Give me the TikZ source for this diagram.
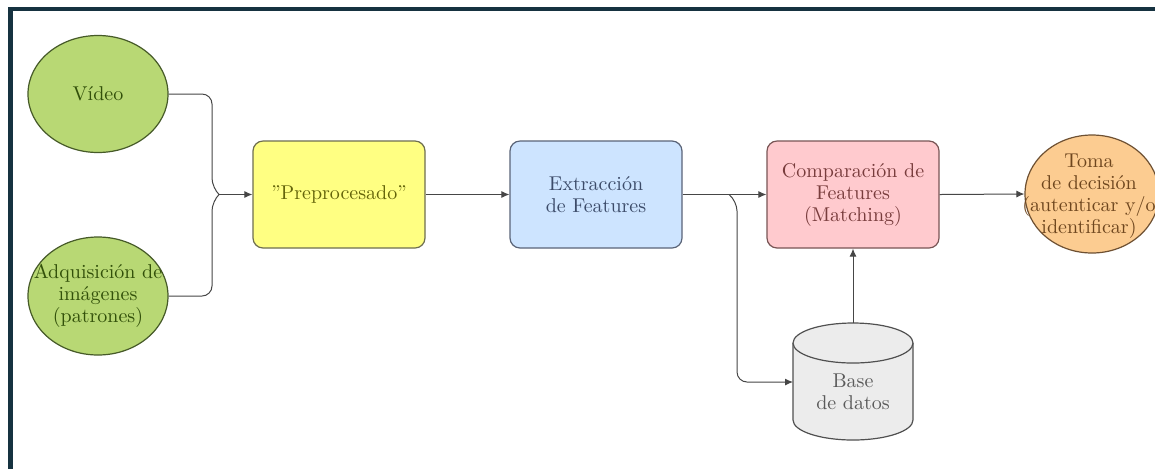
\documentclass[tikz,border=0pt]{standalone}
\usetikzlibrary{arrows.meta,shapes.geometric}
\definecolor{frame}{RGB}{22,50,64}
\definecolor{greenfill}{RGB}{184,216,116}
\definecolor{greendraw}{RGB}{70,90,40}
\definecolor{greentext}{RGB}{50,80,10}
\definecolor{yelfill}{RGB}{255,255,130}
\definecolor{yeldraw}{RGB}{110,110,80}
\definecolor{yeltext}{RGB}{100,100,10}
\definecolor{bluefill}{RGB}{205,228,255}
\definecolor{bluedraw}{RGB}{90,100,120}
\definecolor{bluetext}{RGB}{60,75,105}
\definecolor{pinkfill}{RGB}{255,202,206}
\definecolor{pinkdraw}{RGB}{120,85,85}
\definecolor{pinktext}{RGB}{120,60,60}
\definecolor{orfill}{RGB}{252,204,145}
\definecolor{ordraw}{RGB}{110,80,50}
\definecolor{ortext}{RGB}{110,70,30}
\definecolor{dbfill}{RGB}{236,236,236}
\definecolor{dbdraw}{RGB}{80,80,80}
\definecolor{dbtext}{RGB}{90,90,90}
\definecolor{linec}{RGB}{70,70,70}
\tikzset{
  txt/.style={font=\fontsize{10}{11}\selectfont, align=center},
  ell/.style={ellipse, draw, line width=0.6pt, inner sep=0pt},
  proc/.style={txt, draw, rounded corners=5pt, line width=0.6pt, minimum width=172*0.5pt, minimum height=107*0.5pt, inner sep=0pt},
  conn/.style={draw=linec, line width=0.5pt},
  arr/.style={conn, -{Latex[length=4pt,width=3.5pt]}},
}
\begin{document}
\begin{tikzpicture}[x=0.5pt,y=-0.5pt]
\useasboundingbox (0,0) rectangle (1155,468);
\clip (0,0) rectangle (1155,468);
\fill[white] (0,0) rectangle (1155,468);
\draw[frame, line width=2.4pt] (10.5,470) -- (10.5,9) -- (1160,9);

\node[ell, fill=greenfill, draw=greendraw, minimum width=140*0.5pt, minimum height=117*0.5pt] (vid) at (98,94) {};
\node[txt, text=greentext] (vidt) at (vid) {Vídeo};
\node[ell, fill=greenfill, draw=greendraw, minimum width=140*0.5pt, minimum height=118*0.5pt] (adq) at (98,296) {};
\node[txt, text=greentext] (adqt) at (adq) {Adquisición de\\imágenes\\(patrones)};

\node[proc, fill=yelfill, draw=yeldraw, text=yeltext] (pre) at (339,194.5) {"Preprocesado"};
\node[proc, fill=bluefill, draw=bluedraw, text=bluetext] (ext) at (596,194.5) {Extracción\\de Features};
\node[proc, fill=pinkfill, draw=pinkdraw, text=pinktext] (comp) at (853,194.5) {Comparación de\\Features\\(Matching)};

\node[ell, fill=orfill, draw=ordraw, minimum width=134*0.5pt, minimum height=118*0.5pt] (toma) at (1092,194) {};
\node[txt, text=ortext] (tomat) at (1089,196) {Toma\\de decisión\\(autenticar y/o\\identificar)};

% database cylinder
\fill[dbfill] (793,343) -- (793,420) arc[start angle=180,end angle=0,x radius=60,y radius=20] -- (913,343) -- cycle;
\draw[dbdraw, line width=0.6pt] (793,343) -- (793,420) arc[start angle=180,end angle=0,x radius=60,y radius=20] -- (913,343);
\filldraw[fill=dbfill, draw=dbdraw, line width=0.6pt] (853,343) ellipse[x radius=60, y radius=20];
\node[txt, text=dbtext, minimum width=120*0.5pt, minimum height=97*0.5pt, inner sep=0pt] (db) at (853,391.5) {Base\\de datos};
\coordinate (dbtop) at (853,323);
\coordinate (dbin) at (793,382);

% bracket from inputs
\coordinate (j1) at (219,194.5);
\draw[conn, rounded corners=5pt] (vid.east) -- (212,94) -- (212,188) -- (j1);
\draw[conn, rounded corners=5pt] (adq.east) -- (212,296) -- (212,201) -- (j1);
\draw[arr] (j1) -- (pre.west);

\draw[arr] (pre.east) -- (ext.west);
\draw[arr] (ext.east) -- (comp.west);
\coordinate (j2) at (729,194.5);
\draw[arr, rounded corners=5pt] (j2) -- (737,201) -- (737,382) -- (dbin);
\draw[arr] (dbtop) -- (comp.south);
\draw[arr] (comp.east) -- (toma.west);
\end{tikzpicture}
\end{document}
